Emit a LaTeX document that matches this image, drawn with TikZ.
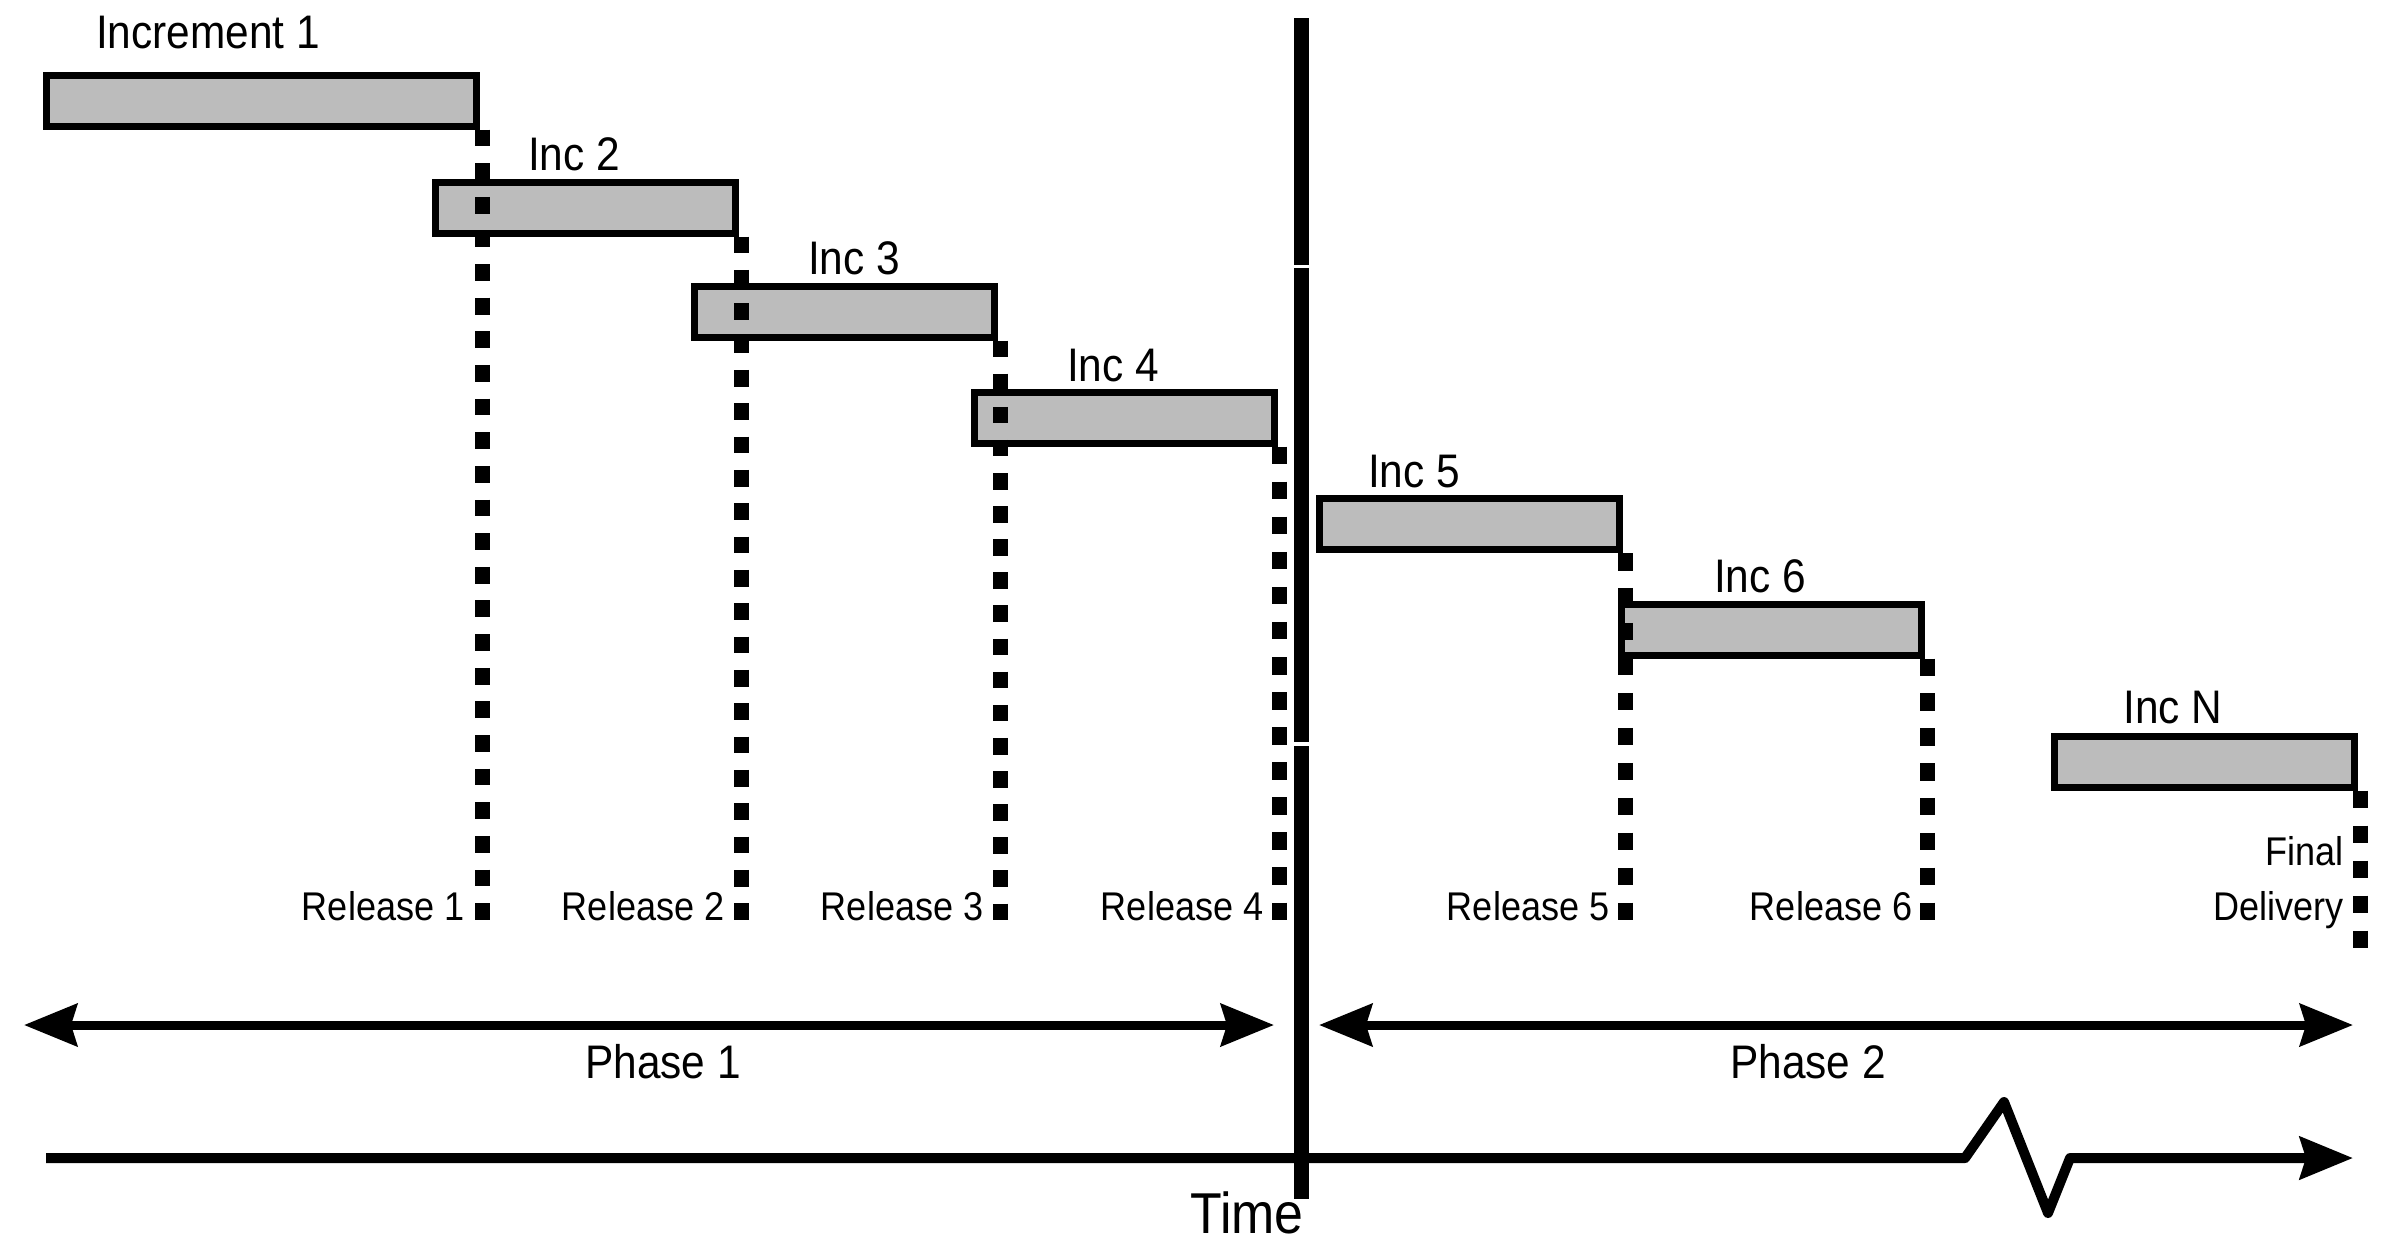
\documentclass[tikz,border=0pt]{standalone}
\usepackage{fontspec}
\setmainfont{Liberation Sans}[FakeStretch=0.9]
\usepackage{tikz}
\usetikzlibrary{arrows.meta, positioning}
\definecolor{barfill}{RGB}{188,188,188}
\tikzset{
  incbar/.style={rectangle, draw, line width=0.07cm, fill=barfill,
    inner sep=0pt, minimum width=3.0cm, minimum height=0.51cm},
  inclabel/.style={inner sep=0pt, anchor=base, font=\fontsize{13.4}{16}\selectfont},
  rellabel/.style={inner sep=0pt, anchor=base east, font=\fontsize{11.4}{14}\selectfont},
  release/.style={line width=0.15cm, dash pattern=on #1 off #1},
  divider/.style={line width=0.15cm},
  phasearrow/.style={{Stealth[length=0.53cm, width=0.42cm, inset=0.06cm]}-{Stealth[length=0.53cm, width=0.42cm, inset=0.06cm]},
    line width=0.09cm},
  timearrow/.style={-{Stealth[length=0.53cm, width=0.42cm, inset=0.06cm]},
    line width=0.1cm, line join=round},
}

\begin{document}
\begin{tikzpicture}
  \useasboundingbox (0,0) rectangle (24,-12.49);

  % increments
  \node[incbar, minimum width=4.30cm] (inc1) at (2.615,-1.005) {};
  \node[incbar] (inc2) at (5.855,-2.075) {};
  \node[incbar] (inc3) at (8.445,-3.115) {};
  \node[incbar] (inc4) at (11.24,-4.175) {};
  \node[incbar] (inc5) at (14.695,-5.24) {};
  \node[incbar] (inc6) at (17.715,-6.295) {};
  \node[incbar] (incN) at (22.045,-7.615) {};

  \node[inclabel] (lbl1) at (2.08,-0.48) {Increment 1};
  \node[inclabel] (lbl2) at (5.74,-1.70) {Inc 2};
  \node[inclabel] (lbl3) at (8.54,-2.74) {Inc 3};
  \node[inclabel] (lbl4) at (11.13,-3.81) {Inc 4};
  \node[inclabel] (lbl5) at (14.14,-4.87) {Inc 5};
  \node[inclabel] (lbl6) at (17.60,-5.92) {Inc 6};
  \node[inclabel] (lblN) at (21.73,-7.23) {Inc N};

  % release lines
  \coordinate (relbase) at (0,-9.20);
  \coordinate (finalbase) at (0,-9.48);
  \coordinate (r1) at ([xshift=0.02cm]inc1.south east);
  \coordinate (r2) at ([xshift=0.02cm]inc2.south east);
  \coordinate (r3) at ([xshift=0.02cm]inc3.south east);
  \coordinate (r4) at ([xshift=0.02cm]inc4.south east);
  \coordinate (r5) at ([xshift=0.02cm]inc5.south east);
  \coordinate (r6) at ([xshift=0.02cm]inc6.south east);
  \coordinate (rN) at ([xshift=0.02cm]incN.south east);
  \draw[release=0.1682cm] (r1) -- (r1 |- relbase);
  \draw[release=0.1667cm] (r2) -- (r2 |- relbase);
  \draw[release=0.1656cm] (r3) -- (r3 |- relbase);
  \draw[release=0.1754cm] (r4) -- (r4 |- relbase);
  \draw[release=0.1748cm] (r5) -- (r5 |- relbase);
  \draw[release=0.1743cm] (r6) -- (r6 |- relbase);
  \draw[release=0.175cm] (rN) -- (rN |- finalbase);

  \node[rellabel] (rel1) at (4.65,-9.20) {Release 1};
  \node[rellabel] (rel2) at (7.25,-9.20) {Release 2};
  \node[rellabel] (rel3) at (9.84,-9.20) {Release 3};
  \node[rellabel] (rel4) at (12.64,-9.20) {Release 4};
  \node[rellabel] (rel5) at (16.10,-9.20) {Release 5};
  \node[rellabel] (rel6) at (19.13,-9.20) {Release 6};
  \node[rellabel] (final) at (23.44,-8.65) {Final};
  \node[rellabel] (delivery) at (23.44,-9.20) {Delivery};

  % phase divider
  \draw[divider] (13.015,-0.18) -- (13.015,-2.65);
  \draw[divider] (13.015,-2.68) -- (13.015,-7.42);
  \draw[divider] (13.015,-7.46) -- (13.015,-11.99);

  % phases
  \coordinate (p1a) at (0.24,-10.25);
  \coordinate (p1b) at (12.74,-10.25);
  \coordinate (p2a) at (13.19,-10.25);
  \coordinate (p2b) at (23.53,-10.25);
  \draw[phasearrow] (p1a) -- (p1b);
  \draw[phasearrow] (p2a) -- (p2b);
  \node[inclabel] (phase1) at (6.63,-10.78) {Phase 1};
  \node[inclabel] (phase2) at (18.08,-10.78) {Phase 2};

  % time axis
  \coordinate (t0) at (0.46,-11.58);
  \coordinate (tk) at (19.65,-11.58);
  \coordinate (tpeak) at (20.04,-11.02);
  \coordinate (tlow) at (20.48,-12.13);
  \coordinate (tback) at (20.70,-11.58);
  \coordinate (tend) at (23.53,-11.58);
  \draw[timearrow] (t0) -- (tk) -- (tpeak) -- (tlow) -- (tback) -- (tend);
  \node[inclabel, font=\fontsize{16.4}{19}\selectfont] (time) at (12.47,-12.33) {Time};
\end{tikzpicture}
\end{document}
